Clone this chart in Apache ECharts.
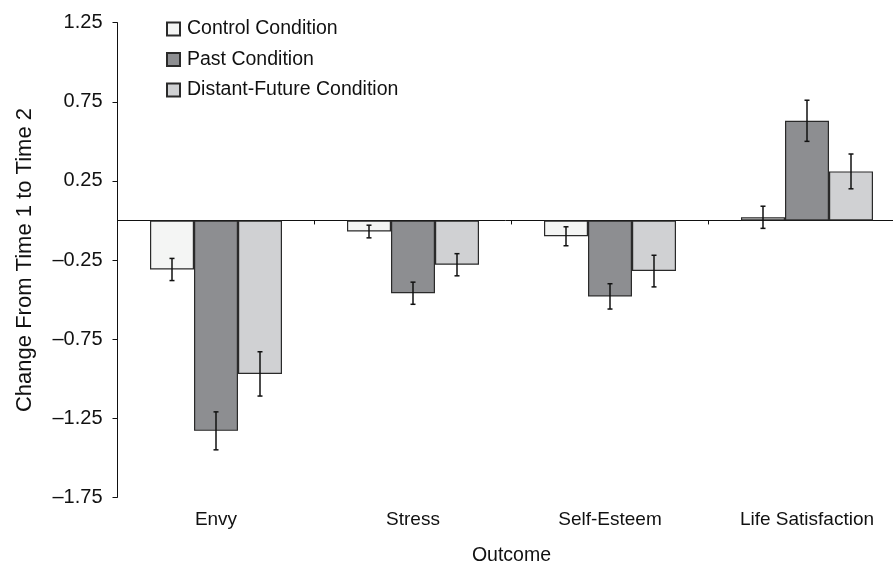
<!DOCTYPE html>
<html>
<head>
<meta charset="utf-8">
<script src="https://cdn.jsdelivr.net/npm/echarts@6/dist/echarts.min.js"></script>
<style>
html,body{margin:0;padding:0;background:#fff;overflow:hidden;}
#chart{width:893px;height:567px;}
</style>
</head>
<body>
<div id="chart"></div>
<script>
const categories = ['Envy', 'Stress', 'Self-Esteem', 'Life Satisfaction'];
const seriesNames = ['Control Condition', 'Past Condition', 'Distant-Future Condition'];
const controlValues = [-0.31, -0.07, -0.10, 0.02];
const pastValues = [-1.33, -0.46, -0.48, 0.63];
const distantValues = [-0.97, -0.28, -0.32, 0.31];
const controlErrors = [0.07, 0.04, 0.06, 0.07];
const pastErrors = [0.12, 0.07, 0.08, 0.13];
const distantErrors = [0.14, 0.07, 0.10, 0.11];
const yTickValues = [-1.75, -1.25, -0.75, -0.25, 0.25, 0.75, 1.25];
const yTickLabels = ['–1.75', '–1.25', '–0.75', '–0.25', '0.25', '0.75', '1.25'];

const NARROW = "'Liberation Sans Narrow', 'Arial Narrow', 'Liberation Sans', sans-serif";
const REGULAR = "'Liberation Sans', Arial, sans-serif";
const BAR_W = 44;
const colors = ['#f4f5f4', '#8d8e91', '#d0d1d3'];
const valueSets = [controlValues, pastValues, distantValues];
const errorSets = [controlErrors, pastErrors, distantErrors];

const chart = echarts.init(document.getElementById('chart'), null, {renderer: 'canvas'});

const barSeries = seriesNames.map((name, k) => ({
  name: name,
  type: 'bar',
  xAxisIndex: 0,
  yAxisIndex: 0,
  barWidth: BAR_W,
  barGap: '0%',
  data: valueSets[k],
  itemStyle: {color: colors[k], borderColor: '#2a2a2a', borderWidth: 1.2},
  emphasis: {disabled: true},
  z: 2
}));

const errSeries = seriesNames.map((name, k) => ({
  type: 'custom',
  xAxisIndex: 0,
  yAxisIndex: 0,
  silent: true,
  z: 10,
  encode: {x: 0, y: 1},
  data: valueSets[k].map((v, i) => [i, v, errorSets[k][i]]),
  renderItem: function (params, api) {
    const i = api.value(0), v = api.value(1), e = api.value(2);
    const top = api.coord([i, v + e]);
    const bot = api.coord([i, v - e]);
    const x = top[0] + (k - 1) * BAR_W;
    const st = {stroke: '#111', lineWidth: 1.5};
    return {
      type: 'group',
      children: [
        {type: 'line', shape: {x1: x, y1: top[1], x2: x, y2: bot[1]}, style: st},
        {type: 'line', shape: {x1: x - 2.5, y1: top[1], x2: x + 2.5, y2: top[1]}, style: st},
        {type: 'line', shape: {x1: x - 2.5, y1: bot[1], x2: x + 2.5, y2: bot[1]}, style: st}
      ]
    };
  }
}));

const option = {
  animation: false,
  backgroundColor: '#fff',
  grid: {left: 117.5, width: 788, top: 22.7, bottom: 69.7, containLabel: false, outerBoundsMode: 'none'},
  legend: {
    data: seriesNames,
    orient: 'vertical',
    left: 161,
    top: 12.5,
    itemWidth: 13,
    itemHeight: 13,
    itemGap: 7.5,
    icon: 'rect',
    selectedMode: false,
    textStyle: {fontFamily: NARROW, fontSize: 19.5, color: '#111', lineHeight: 23, padding: [0, 0, 0, 2]}
  },
  xAxis: [
    {
      type: 'category',
      data: categories,
      position: 'bottom',
      axisLine: {show: false},
      axisTick: {show: false},
      splitLine: {show: false},
      axisLabel: {fontFamily: NARROW, fontSize: 19, color: '#111', margin: 13, interval: 0, hideOverlap: false},
      name: 'Outcome',
      nameLocation: 'middle',
      nameGap: 48,
      nameTextStyle: {fontFamily: NARROW, fontSize: 19.5, color: '#111'}
    },
    {
      type: 'category',
      data: categories,
      position: 'bottom',
      axisLine: {show: true, onZero: true, onZeroAxisIndex: 0, lineStyle: {color: '#111', width: 1}},
      axisTick: {show: true, length: 4, inside: false, lineStyle: {color: '#111', width: 1}},
      axisLabel: {show: false},
      splitLine: {show: false}
    }
  ],
  yAxis: {
    type: 'value',
    min: -1.75,
    max: 1.25,
    interval: 0.5,
    axisLine: {show: true, onZero: false, lineStyle: {color: '#111', width: 1}},
    axisTick: {show: true, length: 5, inside: false, lineStyle: {color: '#111', width: 1}},
    splitLine: {show: false},
    axisLabel: {
      fontFamily: REGULAR, fontSize: 20, color: '#111', margin: 15,
      formatter: function (v) {
        const idx = yTickValues.findIndex(t => Math.abs(t - v) < 1e-6);
        return idx >= 0 ? yTickLabels[idx] : '';
      }
    },
    name: 'Change From Time 1 to Time 2',
    nameLocation: 'middle',
    nameGap: 82,
    nameTextStyle: {fontFamily: REGULAR, fontSize: 22, color: '#111'}
  },
  series: barSeries.concat(errSeries)
};

chart.setOption(option);
</script>
</body>
</html>
